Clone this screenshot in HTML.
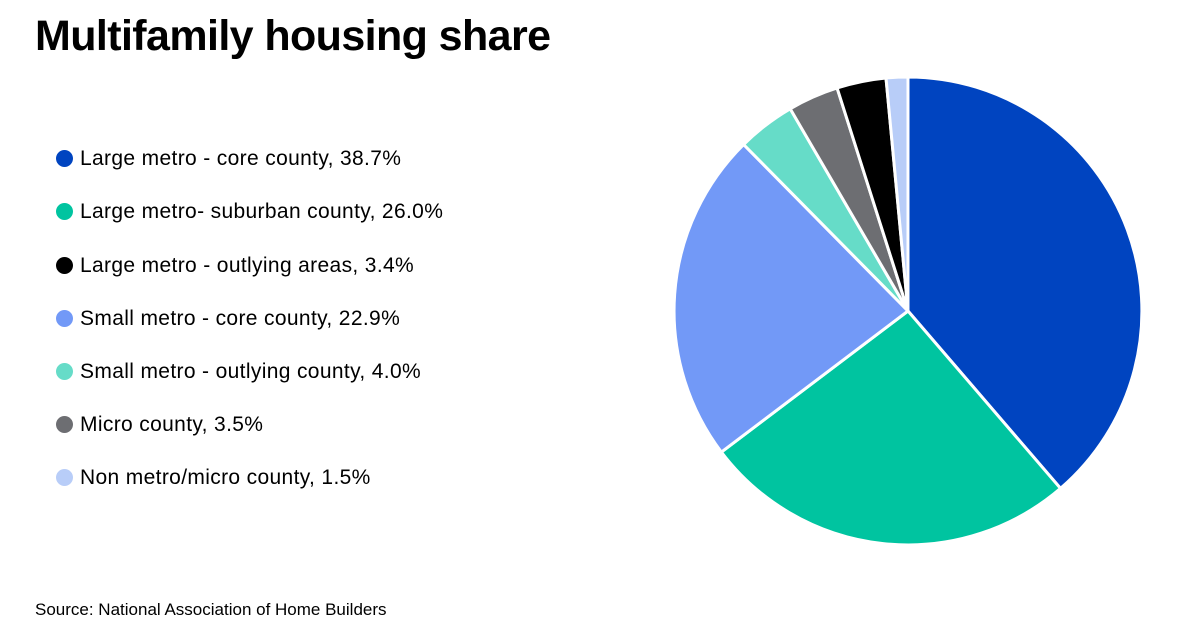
<!DOCTYPE html>
<html><head><meta charset="utf-8"><style>
body{margin:0;width:1200px;height:630px;background:#fff;font-family:"Liberation Sans",sans-serif;color:#000;position:relative;overflow:hidden}
h1{position:absolute;left:35px;top:12px;margin:0;font-size:43px;font-weight:bold;letter-spacing:-0.6px}
.row{position:absolute;left:56px;font-size:21px;letter-spacing:0.35px;height:24px;line-height:24px}
.dot{display:inline-block;width:17px;height:17px;border-radius:50%;vertical-align:-2px;margin-right:7px}
.src{position:absolute;left:35px;top:600px;font-size:17px}
svg{position:absolute;left:0;top:0}
</style></head><body>
<h1>Multifamily housing share</h1>
<div class="row" style="top:147px"><span class="dot" style="background:#0044c0"></span>Large metro - core county, 38.7%</div>
<div class="row" style="top:200px"><span class="dot" style="background:#00c4a0"></span>Large metro- suburban county, 26.0%</div>
<div class="row" style="top:254px"><span class="dot" style="background:#000"></span>Large metro - outlying areas, 3.4%</div>
<div class="row" style="top:307px"><span class="dot" style="background:#7299f7"></span>Small metro - core county, 22.9%</div>
<div class="row" style="top:360px"><span class="dot" style="background:#66dcc8"></span>Small metro - outlying county, 4.0%</div>
<div class="row" style="top:413px"><span class="dot" style="background:#6d6e72"></span>Micro county, 3.5%</div>
<div class="row" style="top:466px"><span class="dot" style="background:#b8cdf8"></span>Non metro/micro county, 1.5%</div>
<svg width="1200" height="630">
<g stroke="#fff" stroke-width="3" stroke-linejoin="round">
<path d="M908 311 L908 77 A234 234 0 0 1 1060.5 488.4 Z" fill="#0044c0"/>
<path d="M908 311 L1060.5 488.4 A234 234 0 0 1 721.4 452.1 Z" fill="#00c4a0"/>
<path d="M908 311 L721.4 452.1 A234 234 0 0 1 743.6 144.5 Z" fill="#7299f7"/>
<path d="M908 311 L743.6 144.5 A234 234 0 0 1 790.2 108.8 Z" fill="#66dcc8"/>
<path d="M908 311 L790.2 108.8 A234 234 0 0 1 837.1 88 Z" fill="#6d6e72"/>
<path d="M908 311 L837.1 88 A234 234 0 0 1 886 78 Z" fill="#000"/>
<path d="M908 311 L886 78 A234 234 0 0 1 908 77 Z" fill="#b8cdf8"/>
</g>
</svg>
<div class="src">Source: National Association of Home Builders</div>
</body></html>
